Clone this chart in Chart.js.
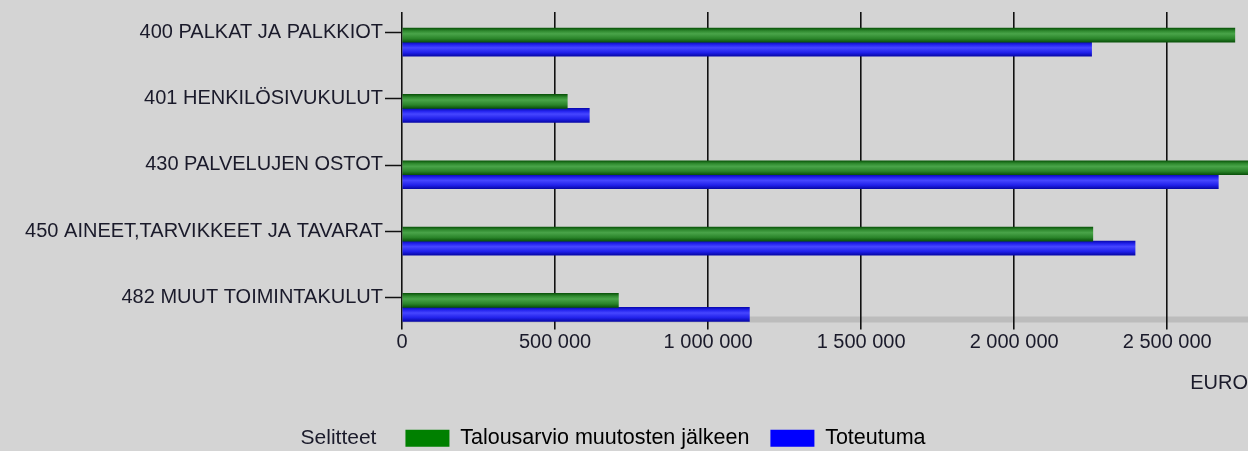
<!DOCTYPE html>
<html lang="fi">
<head>
  <meta charset="UTF-8" />
  <title>Toimintakulut</title>
  <script src="https://cdn.jsdelivr.net/npm/chart.js"></script>
  <style>
    body { margin: 0; background: #d4d4d4; }
    #wrap { width: 1248px; height: 451px; }
  </style>
</head>
<body>
  <div id="wrap"><canvas id="kulut"></canvas></div>

  <script>
    // tiliryhmät ja arvot (euroa)
    const categories = [
      '400 PALKAT JA PALKKIOT',
      '401 HENKILÖSIVUKULUT',
      '430 PALVELUJEN OSTOT',
      '450 AINEET,TARVIKKEET JA TAVARAT',
      '482 MUUT TOIMINTAKULUT'
    ];
    const budget = [2721000, 540000, 2800000, 2257000, 707000];
    const actual = [2253000, 612000, 2667000, 2395000, 1135000];
    const xTicks = [0, 500000, 1000000, 1500000, 2000000, 2500000];
    const seriesNames = ['Talousarvio muutosten jälkeen', 'Toteutuma'];
    const legendTitle = 'Selitteet';
    const axisTitle = 'EURO';

    const BG = '#d4d4d4';
    const BAR = 14;
    const legendColors = ['#008000', '#0000ff'];
    const shades = [
      ['#0b560b', '#2f8a2f', '#49a449', '#2a842a', '#0a520a'],
      ['#0a0ab4', '#2424f0', '#4646ff', '#2020ea', '#0808a8']
    ];

    function fmt(v) {
      return String(v).replace(/\B(?=(\d{3})+(?!\d))/g, ' ');
    }

    // pieni 3D-varjostus palkkeihin
    function barFill(c) {
      const s = shades[c.datasetIndex];
      const chart = c.chart;
      const y = chart.scales.y;
      if (!chart.chartArea || !y || c.dataIndex === undefined) return s[2];
      const center = y.getPixelForValue(c.dataIndex);
      const top = c.datasetIndex === 0 ? center - BAR : center;
      const g = chart.ctx.createLinearGradient(0, top, 0, top + BAR);
      g.addColorStop(0, s[0]);
      g.addColorStop(0.2, s[1]);
      g.addColorStop(0.4, s[2]);
      g.addColorStop(0.75, s[3]);
      g.addColorStop(1, s[4]);
      return g;
    }

    const floorAndTicks = {
      id: 'floorAndTicks',
      afterLayout(chart) {
        // selitteet hieman oikealle kuten alkuperäisessä
        chart.legend.left = 83;
      },
      beforeDraw(chart) {
        const a = chart.chartArea, ctx = chart.ctx;
        ctx.save();
        ctx.fillStyle = '#bcbcbc';
        ctx.fillRect(a.left, a.bottom - 24, a.right - a.left, 6);
        ctx.restore();
      },
      beforeDatasetsDraw(chart) {
        const a = chart.chartArea, ctx = chart.ctx;
        ctx.save();
        ctx.fillStyle = BG;
        ctx.fillRect(a.left - 3, a.bottom - 11, a.right - a.left + 6, 12);
        ctx.fillRect(a.left - 3, a.top - 1, a.right - a.left + 6, 4);
        ctx.restore();
      },
      afterDraw(chart) {
        const ctx = chart.ctx, a = chart.chartArea, y = chart.scales.y;
        ctx.save();
        ctx.strokeStyle = '#111';
        ctx.lineWidth = 1.5;
        y.ticks.forEach((t, i) => {
          const py = Math.round(y.getPixelForTick(i) - 10) + 0.5;
          ctx.beginPath();
          ctx.moveTo(a.left - 17, py);
          ctx.lineTo(a.left, py);
          ctx.stroke();
        });
        const hb = chart.legend.legendHitBoxes[0];
        ctx.fillStyle = '#1a1a2a';
        ctx.font = '21px "Liberation Sans"';
        ctx.textAlign = 'right';
        ctx.textBaseline = 'middle';
        ctx.fillText(legendTitle, hb.left - 29, hb.top + hb.height / 2);
        ctx.restore();
      }
    };

    Chart.defaults.font.family = '"Liberation Sans", Arial, sans-serif';
    Chart.defaults.color = '#1a1a2a';

    new Chart(document.getElementById('kulut'), {
      type: 'bar',
      data: {
        labels: categories,
        datasets: [
          { label: seriesNames[0], data: budget, backgroundColor: barFill, barThickness: BAR },
          { label: seriesNames[1], data: actual, backgroundColor: barFill, barThickness: BAR }
        ]
      },
      options: {
        indexAxis: 'y',
        responsive: true,
        maintainAspectRatio: false,
        animation: false,
        layout: { padding: { left: 0, top: 9, right: 0, bottom: -8 } },
        scales: {
          x: {
            min: 0,
            max: 2764000,
            afterBuildTicks(axis) { axis.ticks = xTicks.map(v => ({ value: v })); },
            grid: { color: '#111', lineWidth: 1.6, drawTicks: false },
            border: { display: false },
            ticks: {
              mirror: true,
              padding: -14,
              z: 1,
              maxRotation: 0,
              autoSkip: false,
              font: { size: 20 },
              callback: v => fmt(v)
            },
            title: {
              display: true,
              text: axisTitle,
              align: 'end',
              font: { size: 20 },
              padding: { top: 0, bottom: 11 }
            },
            afterFit(axis) {
              axis.height = 66;
              axis.paddingLeft = 0;
              axis.paddingRight = 0;
            }
          },
          y: {
            grid: { display: false },
            border: { display: false },
            ticks: { padding: 11, labelOffset: -10, font: { size: 20 }, autoSkip: false },
            afterFit(axis) {
              axis.width = 402;
              axis.paddingTop = 0;
              axis.paddingBottom = 0;
            }
          }
        },
        plugins: {
          tooltip: { enabled: false },
          legend: {
            position: 'bottom',
            labels: {
              boxWidth: 44,
              boxHeight: 17,
              padding: 21,
              font: { size: 21.5 },
              generateLabels: chart => chart.data.datasets.map((ds, i) => ({
                text: ds.label,
                fillStyle: legendColors[i],
                strokeStyle: legendColors[i],
                lineWidth: 0,
                hidden: false,
                datasetIndex: i
              }))
            }
          }
        }
      },
      plugins: [floorAndTicks]
    });
  </script>
</body>
</html>
